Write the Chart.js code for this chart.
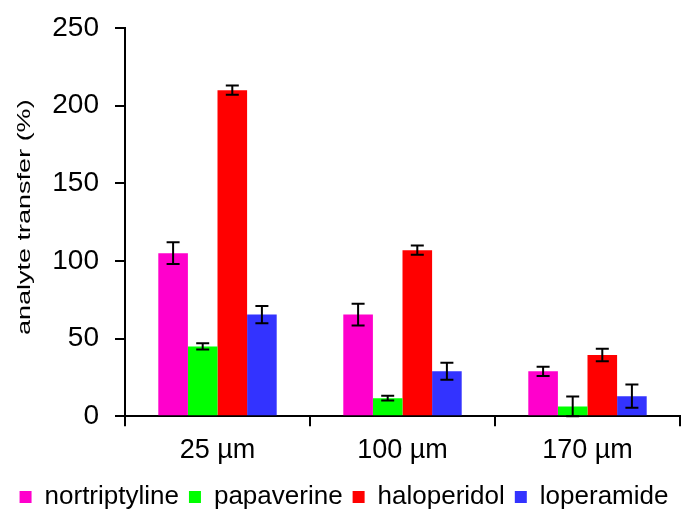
<!DOCTYPE html>
<html>
<head>
<meta charset="utf-8">
<script src="https://cdn.jsdelivr.net/npm/chart.js@4"></script>
<style>
  html, body { margin: 0; padding: 0; background: #fff; }
  #wrap { width: 683px; height: 511px; }
</style>
</head>
<body>
<div id="wrap"><canvas id="chart" width="683" height="511"></canvas></div>
<script>
const categories = ['25 µm', '100 µm', '170 µm']

const nortriptyline = [105, 65.5, 29]
const papaverine = [45, 11.7, 6.3]
const haloperidol = [210, 107, 39.5]
const loperamide = [65.5, 29, 13]

const nortriptylineErr = [7, 7, 3]
const papaverineErr = [2, 1.5, 6.5]
const haloperidolErr = [3, 3, 4]
const loperamideErr = [5.5, 5.5, 7.5]

const yTicks = [0, 50, 100, 150, 200, 250]
const yTitle = 'analyte transfer (%)'

const series = [
  { label: 'nortriptyline', data: nortriptyline, err: nortriptylineErr, color: '#ff00cc' },
  { label: 'papaverine', data: papaverine, err: papaverineErr, color: '#00ff00' },
  { label: 'haloperidol', data: haloperidol, err: haloperidolErr, color: '#ff0000' },
  { label: 'loperamide', data: loperamide, err: loperamideErr, color: '#3333ff' },
]

// draws the +/- error whiskers on top of each bar
const errorBars = {
  id: 'errorBars',
  afterDatasetsDraw(chart) {
    const { ctx, scales } = chart
    ctx.save()
    ctx.strokeStyle = '#000'
    ctx.lineWidth = 2
    chart.data.datasets.forEach((ds, i) => {
      const meta = chart.getDatasetMeta(i)
      meta.data.forEach((bar, j) => {
        const v = ds.data[j]
        const e = ds.err[j]
        const yTop = scales.y.getPixelForValue(v + e)
        const yBot = scales.y.getPixelForValue(Math.max(0, v - e))
        const x = bar.x
        const cap = 6.5
        ctx.beginPath()
        ctx.moveTo(x, yTop); ctx.lineTo(x, yBot)
        ctx.moveTo(x - cap, yTop); ctx.lineTo(x + cap, yTop)
        ctx.moveTo(x - cap, yBot); ctx.lineTo(x + cap, yBot)
        ctx.stroke()
      })
    })
    ctx.restore()
  },
}

// y title: the reference draws it stretched along its length
const yAxisTitle = {
  id: 'yAxisTitle',
  afterDraw(chart) {
    const { ctx, chartArea } = chart
    ctx.save()
    ctx.translate(25, (chartArea.top + chartArea.bottom) / 2 - 5)
    ctx.rotate(-Math.PI / 2)
    ctx.scale(1.5, 1)
    ctx.font = '18px "Liberation Sans", Arial, sans-serif'
    ctx.fillStyle = '#000'
    ctx.textAlign = 'center'
    ctx.textBaseline = 'middle'
    ctx.fillText(yTitle, 0, 0)
    ctx.restore()
  },
}

Chart.defaults.font.family = '"Liberation Sans", Arial, sans-serif'
Chart.defaults.color = '#000'

new Chart(document.getElementById('chart'), {
  type: 'bar',
  data: {
    labels: categories,
    datasets: series.map((s) => ({
      label: s.label,
      data: s.data,
      err: s.err,
      backgroundColor: s.color,
      borderWidth: 0,
      barPercentage: 1,
      categoryPercentage: 0.64,
    })),
  },
  plugins: [errorBars, yAxisTitle],
  options: {
    responsive: false,
    animation: false,
    layout: { padding: { left: 8, right: 3, top: 0, bottom: -9 } },
    plugins: {
      legend: {
        position: 'bottom',
        labels: {
          boxWidth: 12,
          boxHeight: 12,
          padding: 10,
          font: { size: 26 },
          color: '#000',
        },
      },
      tooltip: { enabled: false },
    },
    scales: {
      x: {
        grid: {
          drawOnChartArea: false,
          color: '#000',
          tickLength: 10,
          lineWidth: 2,
        },
        border: { color: '#000', width: 2 },
        ticks: { font: { size: 27, lineHeight: 0.95 }, padding: 11, color: '#000' },
      },
      y: {
        min: 0,
        max: 250,
        afterBuildTicks: (axis) => {
          axis.ticks = yTicks.map((v) => ({ value: v }))
        },
        afterFit: (axis) => {
          axis.width = 117
          axis.paddingTop = 28
        },
        grid: {
          drawOnChartArea: false,
          color: '#000',
          tickLength: 10,
          lineWidth: 2,
        },
        border: { color: '#000', width: 2 },
        ticks: { font: { size: 28 }, padding: 16, color: '#000' },
      },
    },
  },
})
</script>
</body>
</html>
